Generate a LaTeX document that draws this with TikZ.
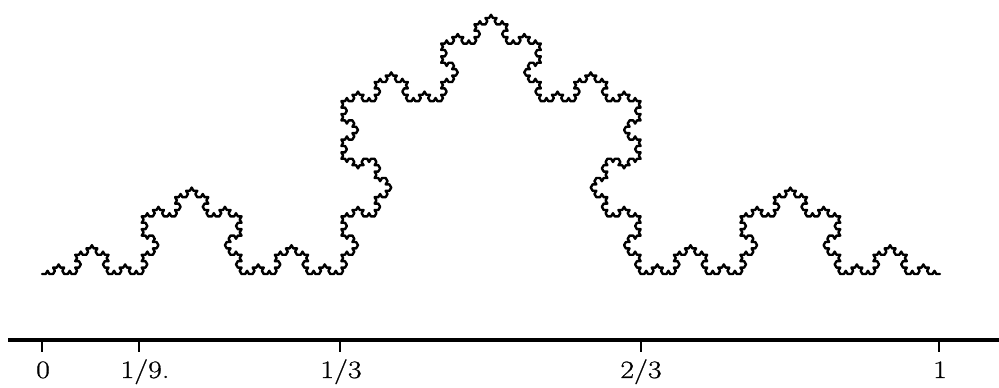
\documentclass[tikz,border=0pt]{standalone}
\usepackage{fontspec}
\newfontfamily\labfont[FakeStretch=1.2,FakeBold=0.8]{Latin Modern Roman}
\usetikzlibrary{lindenmayersystems}
\pgfdeclarelindenmayersystem{Koch curve}{\rule{F -> F+F--F+F}}
\newcommand{\biglab}[1]{{\labfont\fontsize{25}{30}\selectfont #1}}
\tikzset{
  koch/.style={line width=2.4pt, line join=round, line cap=round},
  axisline/.style={line width=3.2pt},
  tickmark/.style={line width=2.4pt},
  ticklabel/.style={anchor=base, inner sep=0pt}
}
\begin{document}
\begin{tikzpicture}[x=1pt,y=1pt]
\useasboundingbox (0,0) rectangle (999,388);
% Koch curve
\coordinate (start) at (42,114);
\begin{scope}[shift={(start)}]
\draw[koch, l-system={Koch curve, axiom=F, order=5, step=3.6955pt, angle=60}] (0,0) lindenmayer system;
\end{scope}
% axis
\coordinate (axL) at (8,48);
\coordinate (axR) at (999,48);
\draw[axisline] (axL) -- (axR);
\foreach \name/\xx in {t0/42, t9/139, t3/340, t23/641, t1/939}{
  \coordinate (\name top) at (\xx,48);
  \coordinate (\name bot) at (\xx,36);
  \draw[tickmark] (\name top) -- (\name bot);
}
\node[ticklabel] (l0) at (43,10) {\biglab{0}};
\node[ticklabel] (l9) at (145,10) {\biglab{1/9.}};
\node[ticklabel] (l3) at (341,10) {\biglab{1/3}};
\node[ticklabel] (l23) at (641,10) {\biglab{2/3}};
\node[ticklabel] (l1) at (940,10) {\biglab{1}};
\end{tikzpicture}
\end{document}
